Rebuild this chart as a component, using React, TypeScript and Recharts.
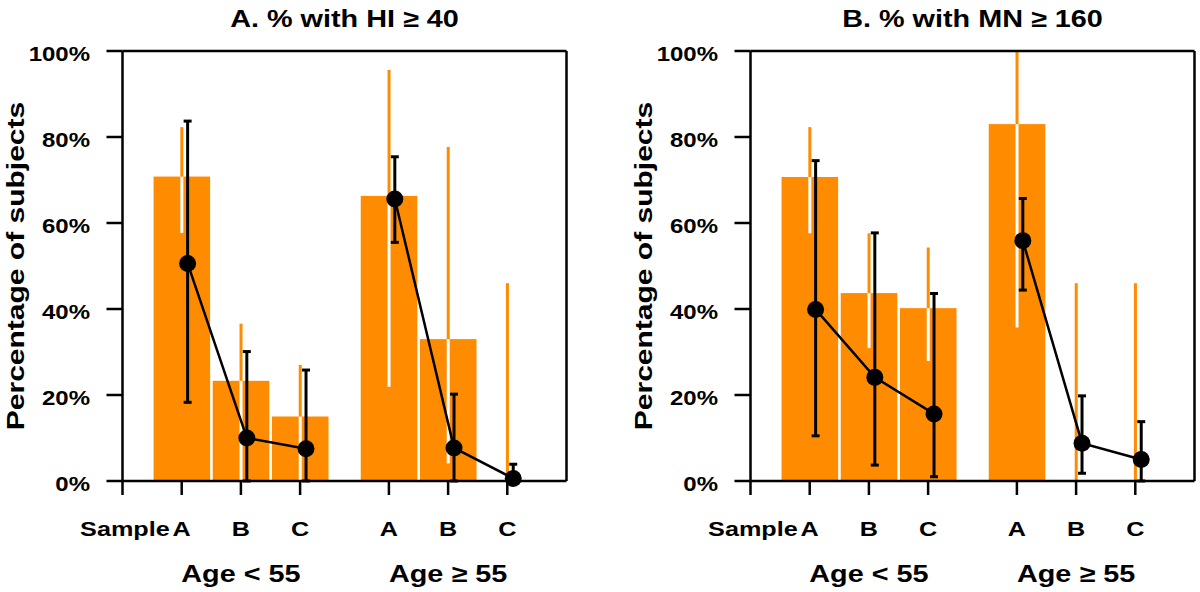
import {
  ComposedChart,
  Bar,
  Line,
  XAxis,
  YAxis,
  ErrorBar,
  ReferenceLine,
} from 'recharts';

// x positions of the six samples (two age groups, gap between them)
const xPos = [1, 2, 3, 4.5, 5.5, 6.5];
const tickLetters = ['A', 'B', 'C', 'A', 'B', 'C'];
const groupLabels = ['Age < 55', 'Age ≥ 55'];
const yTicks = [0, 20, 40, 60, 80, 100];

// Panel A: % with HI >= 40
const barA = [70.8, 23.3, 15.0, 66.3, 33.0, 0];
const barLoA = [57.7, 0, 0, 21.9, 4.1, 0];
const barHiA = [82.3, 36.6, 27.0, 95.6, 77.7, 46.0];
const ptA = [50.6, 10.0, 7.5, 65.6, 7.7, 0.6];
const ptLoA = [18.3, 0, 0, 55.5, 0, 0];
const ptHiA = [83.7, 30.1, 25.8, 75.4, 20.2, 3.9];

// Panel B: % with MN >= 160
const barB = [70.7, 43.7, 40.2, 83.0, 0, 0];
const barLoB = [57.6, 30.9, 27.9, 35.7, 0, 0];
const barHiB = [82.3, 57.6, 54.3, 100, 46.0, 46.0];
const ptB = [39.9, 24.1, 15.6, 55.9, 8.8, 5.0];
const ptLoB = [10.5, 3.7, 1.0, 44.4, 1.8, 0];
const ptHiB = [74.5, 57.7, 43.6, 65.7, 19.8, 13.8];

const ORANGE = '#FF8C00';
const FONT = '"Liberation Sans", Arial, Helvetica, sans-serif';
const SX = 1.2; // the original lettering is wide
const PT_SHIFT = 0.1;
const BAR_W = 56.6;

function WideText({ x, y, size, anchor, rotate, sx = SX, children }: any) {
  return (
    <text
      transform={`translate(${x},${y})${rotate ? ' rotate(-90)' : ''} scale(${sx},1)`}
      fontSize={size}
      fontWeight="bold"
      fontFamily={FONT}
      textAnchor={anchor}
      fill="#000"
    >
      {children}
    </text>
  );
}

function YTick(props: any) {
  const { x, y, payload } = props;
  return (
    <WideText x={x} y={y + 10} size={20} anchor="end">
      {payload.value}%
    </WideText>
  );
}

function XTick(props: any) {
  const { x, y, payload } = props;
  const i = xPos.indexOf(payload.value);
  if (i < 0) return <g />;
  return (
    <g>
      {i === 0 && (
        <WideText x={x - 12} y={y + 41} size={21} anchor="end">
          Sample
        </WideText>
      )}
      <WideText x={x} y={y + 41} size={21} anchor="middle">
        {tickLetters[i]}
      </WideText>
      {(i === 1 || i === 4) && (
        <WideText x={x} y={y + 87} size={24} anchor="middle">
          {groupLabels[i === 1 ? 0 : 1]}
        </WideText>
      )}
    </g>
  );
}

// bar drawn at a fixed width, centred on the scale position of its x value
function WideBar(props: any) {
  const { x, y, width, height } = props;
  if (!height) return <g />;
  const cx = x + width / 2;
  return <rect x={cx - BAR_W / 2} y={y} width={BAR_W} height={height} fill={ORANGE} />;
}

function Panel({ title, bar, barLo, barHi, pt, ptLo, ptHi, left }: any) {
  const bars = xPos.map((x, i) => ({
    x,
    bar: bar[i],
    inner: [bar[i] - barLo[i], 0],
    outer: [0, barHi[i] - bar[i]],
  }));
  const points = xPos.map((x, i) => ({
    x: x + PT_SHIFT,
    pt: pt[i],
    err: [pt[i] - ptLo[i], ptHi[i] - pt[i]],
  }));
  // the line is drawn separately within each age group
  const groups = [points.slice(0, 3), points.slice(3)];

  return (
    <div style={{ position: 'absolute', left, top: 0 }}>
      <ComposedChart
        width={600}
        height={592}
        data={bars}
        margin={{ top: 51, right: 33.5, bottom: 0, left: 0 }}
      >
        <XAxis
          type="number"
          dataKey="x"
          domain={[0, 7.5]}
          ticks={[0, ...xPos]}
          interval={0}
          height={111}
          tickSize={14}
          tickMargin={0}
          axisLine={{ stroke: '#000', strokeWidth: 2.5 }}
          tickLine={{ stroke: '#000', strokeWidth: 2.5 }}
          tick={<XTick />}
        />
        <YAxis
          type="number"
          domain={[0, 100]}
          ticks={yTicks}
          interval={0}
          width={122.5}
          tickSize={16}
          tickMargin={16.5}
          axisLine={{ stroke: '#000', strokeWidth: 2.5 }}
          tickLine={{ stroke: '#000', strokeWidth: 2.5 }}
          tick={<YTick />}
          label={{
            content: (p: any) => {
              const vb = p.viewBox;
              return (
                <WideText x={24} y={vb.y + vb.height / 2} size={24} sx={1.25} anchor="middle" rotate>
                  Percentage of subjects
                </WideText>
              );
            },
          }}
        />
        <Bar dataKey="bar" fill={ORANGE} shape={<WideBar />} isAnimationActive={false}>
          <ErrorBar dataKey="inner" width={0} stroke="#fff" strokeWidth={3} direction="y" />
          <ErrorBar dataKey="outer" width={0} stroke={ORANGE} strokeWidth={3} direction="y" />
        </Bar>
        {groups.map((g, gi) => (
          <Line
            key={gi}
            data={g}
            dataKey="pt"
            stroke="#000"
            strokeWidth={2.5}
            dot={{ r: 8.5, fill: '#000', stroke: '#000', strokeWidth: 0 }}
            isAnimationActive={false}
          >
            <ErrorBar dataKey="err" width={4} stroke="#000" strokeWidth={3} direction="y" />
          </Line>
        ))}
        <ReferenceLine
          y={100}
          stroke="#000"
          strokeWidth={2.5}
          label={{
            content: (p: any) => {
              const vb = p.viewBox;
              return (
                <WideText x={vb.x + vb.width / 2} y={27} size={24} anchor="middle">
                  {title}
                </WideText>
              );
            },
          }}
        />
        <ReferenceLine x={7.5} stroke="#000" strokeWidth={2.5} />
      </ComposedChart>
    </div>
  );
}

export default function App() {
  return (
    <div style={{ position: 'absolute', left: 0, top: 0, width: 1200, height: 592, background: '#fff' }}>
      <Panel
        title="A. % with HI ≥ 40"
        bar={barA}
        barLo={barLoA}
        barHi={barHiA}
        pt={ptA}
        ptLo={ptLoA}
        ptHi={ptHiA}
        left={0}
      />
      <Panel
        title="B. % with MN ≥ 160"
        bar={barB}
        barLo={barLoB}
        barHi={barHiB}
        pt={ptB}
        ptLo={ptLoB}
        ptHi={ptHiB}
        left={628}
      />
    </div>
  );
}
